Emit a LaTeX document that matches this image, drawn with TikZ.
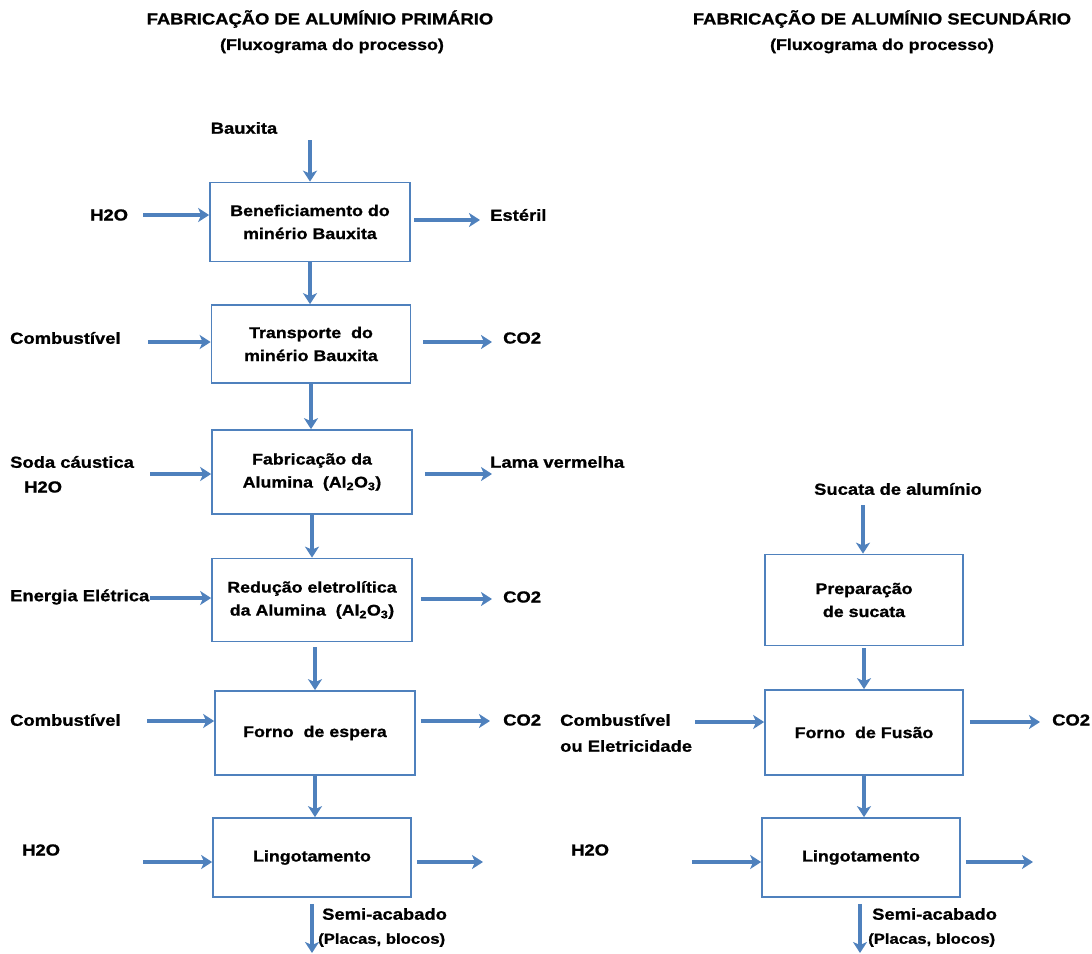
\documentclass[tikz,border=0pt]{standalone}
\usepackage{fontspec}
\setmainfont{Liberation Sans}[FakeStretch=1.15, BoldFeatures={FakeBold=1}]
\usetikzlibrary{arrows.meta}
\definecolor{flow}{RGB}{79,129,189}
\begin{document}
\begin{tikzpicture}[x=1pt,y=-1pt,
 proc/.style={draw=flow, line width=1.7pt, rectangle, align=center, inner sep=0pt,
   font=\bfseries\fontsize{15.5}{23}\selectfont},
 lbl/.style={font=\bfseries\fontsize{16}{20}\selectfont, inner sep=0pt, anchor=west},
 small/.style={font=\bfseries\fontsize{14.5}{17}\selectfont, inner sep=0pt, anchor=west},
 ttl/.style={font=\bfseries\fontsize{16}{19}\selectfont, inner sep=0pt},
 sub/.style={font=\bfseries\fontsize{15.5}{19}\selectfont, inner sep=0pt},
 flowarrow/.style={draw=flow, line width=3.3pt, -{Stealth[length=11pt,width=14pt,inset=3pt]}},
 thickarrow/.style={flowarrow, line width=4.5pt},
]
\useasboundingbox (0,0) rectangle (1092,953);

% titles
\node[ttl] (t1) at (320,19) {FABRICAÇÃO DE ALUMÍNIO PRIMÁRIO};
\node[sub] (s1) at (332,46) {(Fluxograma do processo)};
\node[ttl] (t2) at (882,19) {FABRICAÇÃO DE ALUMÍNIO SECUNDÁRIO};
\node[sub] (s2) at (882,46) {(Fluxograma do processo)};

% primary process boxes
\node[proc, minimum width=200pt, minimum height=79pt] (b1) at (310,222) {Beneficiamento do\\minério Bauxita};
\node[proc, minimum width=199pt, minimum height=78pt] (b2) at (311,344) {Transporte\ \ do\\minério Bauxita};
\node[proc, minimum width=200pt, minimum height=84pt] (b3) at (312,472) {Fabricação da\\Alumina\ \ (Al\textsubscript{2}O\textsubscript{3})};
\node[proc, minimum width=200pt, minimum height=83pt] (b4) at (312,600) {Redução eletrolítica\\da Alumina\ \ (Al\textsubscript{2}O\textsubscript{3})};
\node[proc, minimum width=200pt, minimum height=84pt] (b5) at (315,733) {Forno\ \ de espera};
\node[proc, minimum width=198pt, minimum height=79pt] (b6) at (312,857.5) {Lingotamento};

% secondary process boxes
\node[proc, minimum width=198pt, minimum height=91pt] (r1) at (864,600) {Preparação\\de sucata};
\node[proc, minimum width=198pt, minimum height=85pt] (r2) at (864,732.5) {Forno\ \ de Fusão};
\node[proc, minimum width=198pt, minimum height=79pt] (r3) at (861,857.5) {Lingotamento};

% labels (primary)
\node[lbl, anchor=center] (lbaux) at (244,128) {Bauxita};
\node[lbl] (lh1) at (90,215) {H2O};
\node[lbl] (lest) at (490,215) {Estéril};
\node[lbl] (lcomb1) at (10,338) {Combustível};
\node[lbl] (lco1) at (503,338) {CO2};
\node[lbl] (lsoda) at (10,462) {Soda cáustica};
\node[lbl] (lh2) at (24,487) {H2O};
\node[lbl] (llama) at (490,462) {Lama vermelha};
\node[lbl] (lene) at (10,597) {Energia Elétrica};
\node[lbl] (lco2) at (503,597) {CO2};
\node[lbl] (lcomb2) at (10,720) {Combustível};
\node[lbl] (lco3) at (503,720) {CO2};
\node[lbl] (lh3) at (22,850) {H2O};
\node[lbl] (lsemi1) at (322,914) {Semi-acabado};
\node[small] (lpla1) at (318,940) {(Placas, blocos)};

% labels (secondary)
\node[lbl, anchor=center] (lsuc) at (898,489) {Sucata de alumínio};
\node[lbl] (lcomb3) at (560,720) {Combustível};
\node[lbl] (lele) at (560,746) {ou Eletricidade};
\node[lbl] (lco4) at (1052,720) {CO2};
\node[lbl] (lh4) at (571,850) {H2O};
\node[lbl] (lsemi2) at (872,914) {Semi-acabado};
\node[small] (lpla2) at (868,940) {(Placas, blocos)};

% free ends
\coordinate (iBaux) at (310,140);
\coordinate (iH1) at (143,215);
\coordinate (oEst) at (480,220);
\coordinate (iComb1) at (148,342);
\coordinate (oCO1) at (492,342);
\coordinate (iSoda) at (150,474);
\coordinate (oLama) at (492,474);
\coordinate (iEne) at (150,598);
\coordinate (oCO2) at (492,599);
\coordinate (iComb2) at (147,721);
\coordinate (oCO3) at (490,721);
\coordinate (iH3) at (143,862);
\coordinate (oL1) at (483,862);
\coordinate (oS1) at (312,953);
\coordinate (iSuc) at (863,505);
\coordinate (iComb3) at (695,722);
\coordinate (oCO4) at (1040,722);
\coordinate (iH4) at (692,862);
\coordinate (oL2) at (1033,862);
\coordinate (oS2) at (860,953);

% vertical flow (primary)
\draw[flowarrow] (iBaux) -- (iBaux |- b1.north);
\draw[flowarrow] (b1.south) -- (b1.south |- b2.north);
\draw[flowarrow] (b2.south) -- (b2.south |- b3.north);
\draw[flowarrow] (b3.south) -- (b3.south |- b4.north);
\draw[flowarrow] (b5.north |- b4.south) ++(0,5) -- (b5.north);
\draw[flowarrow] (b5.south) -- (b5.south |- b6.north);
\draw[flowarrow] (oS1 |- b6.south) ++(0,6) -- (oS1);

% vertical flow (secondary)
\draw[flowarrow] (r1.south) ++(0,2) -- (r1.south |- r2.north);
\draw[flowarrow] (iSuc) -- (iSuc |- r1.north);
\draw[flowarrow] (r2.south) -- (r2.south |- r3.north);
\draw[flowarrow] (oS2 |- r3.south) ++(0,6) -- (oS2);

% inputs / outputs (primary)
\draw[flowarrow] (iH1) -- (iH1 -| b1.west);
\draw[flowarrow] ([xshift=3pt]b1.east |- oEst) -- (oEst);
\draw[flowarrow] (iComb1) -- (iComb1 -| b2.west);
\draw[flowarrow] ([xshift=12pt]b2.east |- oCO1) -- (oCO1);
\draw[flowarrow] (iSoda) -- (iSoda -| b3.west);
\draw[flowarrow] ([xshift=12pt]b3.east |- oLama) -- (oLama);
\draw[flowarrow] (iEne) -- (iEne -| b4.west);
\draw[thickarrow] ([xshift=8pt]b4.east |- oCO2) -- (oCO2);
\draw[flowarrow] (iComb2) -- (iComb2 -| b5.west);
\draw[flowarrow] ([xshift=5pt]b5.east |- oCO3) -- (oCO3);
\draw[flowarrow] (iH3) -- (iH3 -| b6.west);
\draw[flowarrow] ([xshift=5pt]b6.east |- oL1) -- (oL1);

% inputs / outputs (secondary)
\draw[flowarrow] (iComb3) -- (iComb3 -| r2.west);
\draw[flowarrow] ([xshift=6pt]r2.east |- oCO4) -- (oCO4);
\draw[flowarrow] (iH4) -- (iH4 -| r3.west);
\draw[flowarrow] ([xshift=5pt]r3.east |- oL2) -- (oL2);
\end{tikzpicture}
\end{document}
